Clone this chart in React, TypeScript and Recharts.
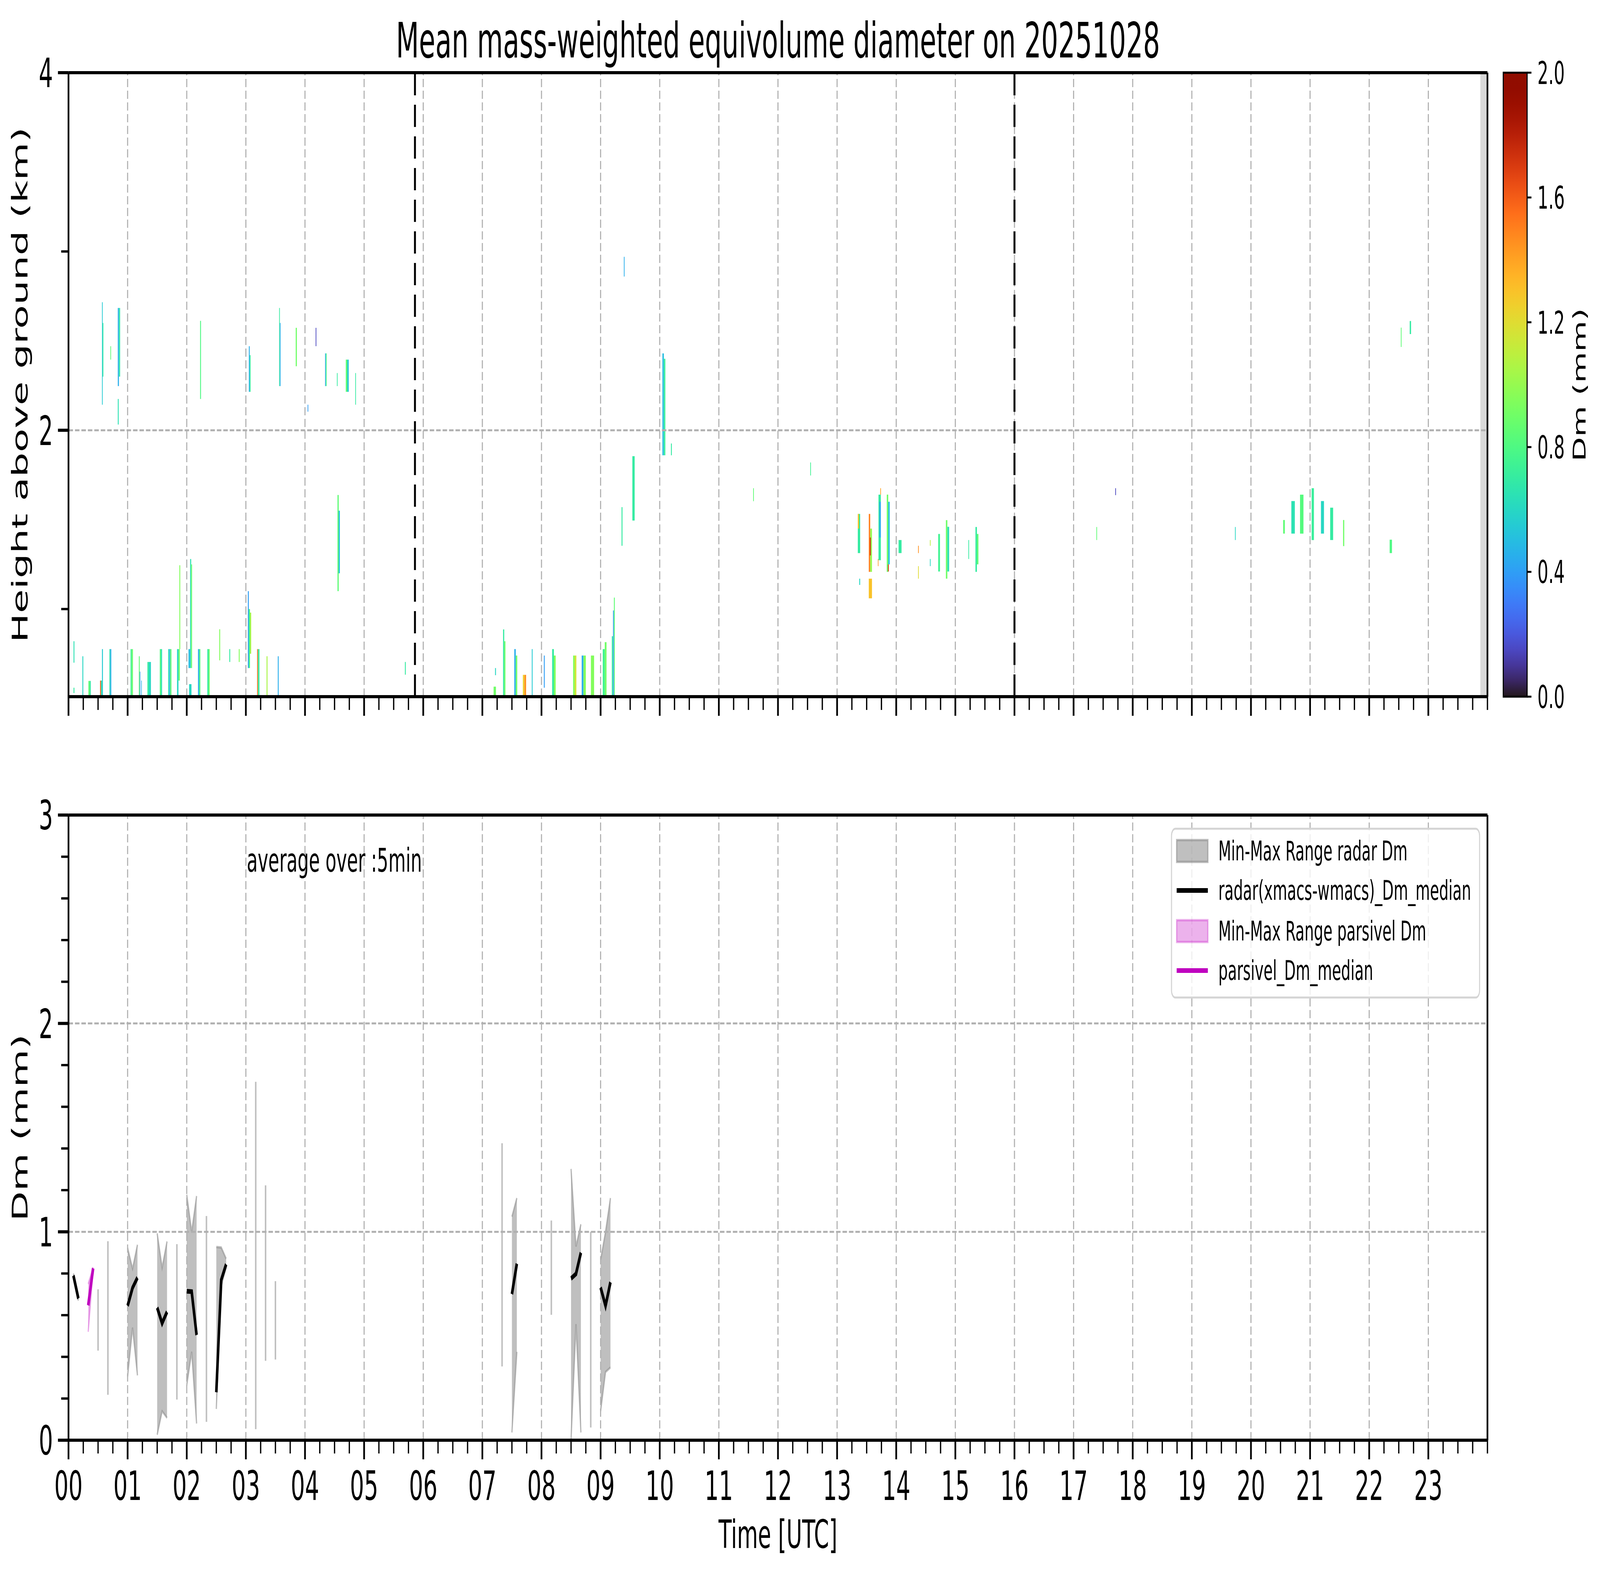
import React from 'react';
import {
  ComposedChart,
  Area,
  Line,
  XAxis,
  YAxis,
  ReferenceArea,
  ReferenceLine,
} from 'recharts';

const FONT = "'DejaVu Sans', sans-serif";
const W = 7442;
const H = 4031;
const PLOT_LEFT = 318.6;
const PLOT_RIGHT = 6918.5;
const CB_LEFT = 6992;
const CB_RIGHT = 7103;

// x axis: hour of day, labelled every hour, minor ticks every 15 min
const hourLabels = [
  '00', '01', '02', '03', '04', '05', '06', '07', '08', '09', '10', '11',
  '12', '13', '14', '15', '16', '17', '18', '19', '20', '21', '22', '23',
];
const quarterTicks = Array.from({ length: 97 }, (_, i) => i / 4);
const gridHours = [1, 2, 3, 4, 5, 6, 7, 8, 9, 10, 11, 12, 13, 14, 15, 16, 17, 18, 19, 20, 21, 22, 23];

const heightTicks = [1, 2, 3, 4];
const heightMajor = [2, 4];
const dmTicks = [0, 0.2, 0.4, 0.6, 0.8, 1, 1.2, 1.4, 1.6, 1.8, 2, 2.2, 2.4, 2.6, 2.8, 3];
const dmMajor = [0, 1, 2, 3];
const colorbarTicks = [0, 0.4, 0.8, 1.2, 1.6, 2.0];
const colorbarTickLabels = ['0.0', '0.4', '0.8', '1.2', '1.6', '2.0'];

// times of the two black dashed markers in the radar panel (hours)
const markerHours = [5.86, 16.0];
// start of the greyed-out no-data strip at the end of the day
const noDataFrom = 23.88;

// radar Dm cells: [start h, end h, bottom km, top km, Dm mm]
const radarCells: number[][] = [
  // 00-04 UTC, lowest gates
  [0.085, 0.1, 0.7, 0.82, 0.65],
  [0.085, 0.1, 0.53, 0.56, 0.7],
  [0.235, 0.25, 0.51, 0.736, 0.6],
  [0.337, 0.36, 0.51, 0.598, 0.85],
  [0.36, 0.377, 0.51, 0.598, 0.7],
  [0.534, 0.55, 0.51, 0.6, 1.6],
  [0.55, 0.566, 0.51, 0.6, 0.65],
  [0.566, 0.582, 0.51, 0.776, 0.55],
  [0.692, 0.708, 0.51, 0.776, 0.65],
  [0.708, 0.724, 0.51, 0.776, 0.45],
  [1.05, 1.07, 0.51, 0.776, 0.75],
  [1.07, 1.09, 0.51, 0.776, 0.88],
  [1.19, 1.205, 0.51, 0.736, 0.85],
  [1.205, 1.215, 0.51, 0.65, 0.4],
  [1.23, 1.24, 0.51, 0.6, 0.45],
  [1.335, 1.36, 0.51, 0.704, 0.7],
  [1.36, 1.394, 0.51, 0.704, 0.6],
  [1.544, 1.565, 0.51, 0.776, 0.8],
  [1.565, 1.583, 0.51, 0.776, 0.65],
  [1.686, 1.705, 0.51, 0.776, 0.65],
  [1.705, 1.72, 0.51, 0.776, 0.45],
  [1.72, 1.741, 0.51, 0.776, 0.85],
  [1.836, 1.86, 0.51, 0.776, 0.6],
  [1.86, 1.883, 0.6, 0.776, 0.9],
  [1.875, 1.89, 0.776, 1.245, 0.95],
  [2.03, 2.057, 0.67, 0.776, 0.5],
  [2.057, 2.075, 0.67, 1.28, 0.65],
  [2.075, 2.09, 0.67, 1.25, 0.9],
  [2.04, 2.08, 0.51, 0.58, 0.6],
  [2.19, 2.21, 0.51, 0.776, 0.45],
  [2.21, 2.23, 0.51, 0.776, 0.8],
  [2.348, 2.37, 0.51, 0.776, 0.7],
  [2.37, 2.388, 0.51, 0.776, 0.9],
  [2.55, 2.565, 0.713, 0.887, 0.95],
  [2.72, 2.735, 0.704, 0.776, 0.7],
  [2.88, 2.895, 0.704, 0.776, 0.95],
  [3.034, 3.05, 0.67, 1.1, 0.4],
  [3.05, 3.07, 0.67, 1.0, 0.8],
  [3.07, 3.09, 0.75, 0.98, 1.05],
  [3.19, 3.205, 0.51, 0.776, 1.55],
  [3.205, 3.23, 0.51, 0.776, 0.7],
  [3.35, 3.366, 0.51, 0.736, 1.05],
  [3.54, 3.555, 0.51, 0.736, 0.45],
  // upper layer 00-05 UTC
  [0.566, 0.578, 2.143, 2.716, 0.55],
  [0.578, 0.59, 2.3, 2.6, 0.7],
  [0.708, 0.72, 2.395, 2.47, 0.85],
  [0.834, 0.853, 2.247, 2.684, 0.45],
  [0.853, 0.873, 2.3, 2.684, 0.68],
  [0.834, 0.849, 2.032, 2.175, 0.65],
  [2.226, 2.241, 2.175, 2.612, 0.8],
  [3.05, 3.065, 2.215, 2.47, 0.45],
  [3.065, 3.08, 2.215, 2.42, 0.7],
  [3.563, 3.575, 2.247, 2.684, 0.7],
  [3.575, 3.587, 2.247, 2.6, 0.45],
  [3.843, 3.862, 2.358, 2.573, 0.9],
  [4.18, 4.192, 2.47, 2.573, 0.15],
  [4.044, 4.056, 2.104, 2.143, 0.4],
  [4.34, 4.354, 2.247, 2.43, 0.45],
  [4.354, 4.367, 2.247, 2.43, 0.8],
  [4.54, 4.552, 2.247, 2.32, 0.7],
  [4.69, 4.715, 2.215, 2.395, 0.85],
  [4.715, 4.74, 2.215, 2.395, 0.55],
  [4.85, 4.862, 2.143, 2.32, 0.7],
  [4.55, 4.57, 1.1, 1.638, 0.85],
  [4.57, 4.59, 1.2, 1.55, 0.5],
  [5.69, 5.705, 0.633, 0.704, 0.7],
  // 07-10 UTC
  [7.19, 7.23, 0.51, 0.566, 0.9],
  [7.215, 7.23, 0.63, 0.67, 0.6],
  [7.35, 7.37, 0.51, 0.886, 0.7],
  [7.37, 7.39, 0.51, 0.82, 0.9],
  [7.54, 7.565, 0.51, 0.776, 0.45],
  [7.565, 7.59, 0.51, 0.74, 0.9],
  [7.685, 7.71, 0.51, 0.632, 1.25],
  [7.71, 7.74, 0.51, 0.632, 1.45],
  [7.836, 7.85, 0.51, 0.776, 0.55],
  [8.04, 8.055, 0.56, 0.74, 0.4],
  [8.18, 8.21, 0.51, 0.776, 0.7],
  [8.21, 8.24, 0.51, 0.74, 0.95],
  [8.535, 8.56, 0.51, 0.74, 0.95],
  [8.56, 8.59, 0.51, 0.74, 1.15],
  [8.68, 8.71, 0.51, 0.74, 0.45],
  [8.71, 8.75, 0.51, 0.74, 0.95],
  [8.836, 8.89, 0.51, 0.74, 0.95],
  [9.036, 9.07, 0.51, 0.776, 0.75],
  [9.07, 9.1, 0.51, 0.815, 0.9],
  [9.19, 9.21, 0.51, 0.848, 0.7],
  [9.21, 9.225, 0.51, 0.992, 0.4],
  [9.225, 9.24, 0.51, 1.064, 0.85],
  [9.354, 9.37, 1.354, 1.57, 0.7],
  [9.393, 9.405, 2.86, 2.97, 0.45],
  [9.537, 9.576, 1.495, 1.855, 0.7],
  [10.045, 10.07, 1.86, 2.43, 0.5],
  [10.07, 10.095, 1.86, 2.4, 0.72],
  [10.19, 10.205, 1.86, 1.926, 0.7],
  // 11-16 UTC
  [11.58, 11.592, 1.603, 1.676, 0.85],
  [12.546, 12.558, 1.747, 1.82, 0.75],
  [13.35, 13.39, 1.313, 1.532, 0.7],
  [13.35, 13.37, 1.45, 1.532, 1.3],
  [13.375, 13.39, 1.135, 1.17, 0.6],
  [13.536, 13.56, 1.208, 1.532, 1.5],
  [13.56, 13.59, 1.208, 1.45, 1.0],
  [13.555, 13.57, 1.3, 1.4, 1.75],
  [13.536, 13.59, 1.06, 1.17, 1.3],
  [13.69, 13.7, 1.24, 1.28, 1.45],
  [13.7, 13.74, 1.273, 1.64, 0.7],
  [13.715, 13.74, 1.4, 1.6, 0.45],
  [13.73, 13.742, 1.64, 1.676, 1.4],
  [13.84, 13.865, 1.208, 1.64, 0.9],
  [13.865, 13.89, 1.25, 1.6, 0.5],
  [13.86, 13.875, 1.21, 1.25, 1.7],
  [14.04, 14.09, 1.313, 1.386, 0.7],
  [14.37, 14.382, 1.313, 1.354, 1.45],
  [14.37, 14.382, 1.17, 1.24, 1.2],
  [14.57, 14.582, 1.354, 1.386, 1.1],
  [14.57, 14.582, 1.24, 1.28, 0.6],
  [14.71, 14.74, 1.21, 1.42, 0.75],
  [14.84, 14.865, 1.17, 1.497, 0.9],
  [14.865, 14.895, 1.21, 1.46, 0.65],
  [15.22, 15.232, 1.28, 1.386, 0.7],
  [15.34, 15.365, 1.208, 1.459, 0.7],
  [15.365, 15.39, 1.25, 1.42, 0.85],
  // 17-23 UTC
  [17.385, 17.397, 1.386, 1.459, 0.85],
  [17.705, 17.717, 1.637, 1.676, 0.15],
  [19.73, 19.742, 1.386, 1.459, 0.6],
  [20.545, 20.573, 1.422, 1.498, 0.85],
  [20.683, 20.742, 1.422, 1.604, 0.65],
  [20.83, 20.888, 1.422, 1.64, 0.82],
  [21.026, 21.065, 1.386, 1.676, 0.72],
  [21.184, 21.235, 1.422, 1.604, 0.6],
  [21.34, 21.39, 1.386, 1.567, 0.7],
  [21.558, 21.578, 1.352, 1.498, 0.9],
  [22.346, 22.385, 1.313, 1.388, 0.8],
  [22.535, 22.547, 2.466, 2.574, 0.85],
  [22.685, 22.708, 2.538, 2.611, 0.7],
];

// 5-min averages, step index k -> time k/12 h
const radarSteps = [1, 2, 12, 13, 14, 18, 19, 20, 24, 25, 26, 30, 31, 32, 90, 91, 102, 103, 104, 108, 109, 110];
const radarMedian = [0.79, 0.68, 0.645, 0.731, 0.78, 0.636, 0.561, 0.616, 0.715, 0.713, 0.505, 0.23, 0.769, 0.844, 0.701, 0.847, 0.776, 0.798, 0.9, 0.733, 0.645, 0.758];
const radarMin = [0.78, 0.67, 0.306, 0.54, 0.311, 0.026, 0.139, 0.107, 0.263, 0.424, 0.08, 0.15, 0.74, 0.83, 0.037, 0.424, 0.0, 0.557, 0.037, 0.139, 0.327, 0.349];
const radarMax = [0.8, 0.69, 0.923, 0.823, 0.938, 0.993, 0.828, 0.954, 1.178, 1.0, 1.172, 0.927, 0.925, 0.871, 1.073, 1.162, 1.302, 0.93, 1.036, 0.866, 1.0, 1.162];

// single 5-min windows (show only as a vertical min-max stroke)
const radarSingleSteps = [6, 8, 22, 28, 38, 40, 42, 88, 98, 106];
const radarSingleMin = [0.43, 0.218, 0.195, 0.088, 0.053, 0.381, 0.387, 0.354, 0.602, 0.061];
const radarSingleMax = [0.724, 0.955, 0.941, 1.076, 1.72, 1.223, 0.763, 1.425, 1.054, 1.0];

const parsivelSteps = [4, 5];
const parsivelMedian = [0.647, 0.825];
const parsivelMin = [0.52, 0.82];
const parsivelMax = [0.75, 0.83];

const STEP = 1 / 12;

const dmRows = Array.from({ length: 112 }, (_, k) => {
  const r = radarSteps.indexOf(k);
  const p = parsivelSteps.indexOf(k);
  return {
    t: k * STEP,
    radarRange: r >= 0 ? [radarMin[r], radarMax[r]] : null,
    radarMedian: r >= 0 ? radarMedian[r] : null,
    parsivelRange: p >= 0 ? [parsivelMin[p], parsivelMax[p]] : null,
    parsivelMedian: p >= 0 ? parsivelMedian[p] : null,
  };
});

const frameRows = [{ t: 0 }, { t: 24 }];
const colorbarRows = [{ u: 0 }, { u: 1 }];

// turbo colormap (polynomial fit)
function turbo(v: number) {
  const x = Math.min(1, Math.max(0, v));
  const r = 0.13572138 + x * (4.6153926 + x * (-42.66032258 + x * (132.13108234 + x * (-152.94239396 + x * 59.28637943))));
  const g = 0.09140261 + x * (2.19418839 + x * (4.84296658 + x * (-14.18503333 + x * (4.27729857 + x * 2.82956604))));
  const b = 0.1066733 + x * (12.64194608 + x * (-60.58204836 + x * (110.36276771 + x * (-89.90310912 + x * 27.34824973))));
  const c = (u: number) => Math.round(255 * Math.min(1, Math.max(0, u)));
  return `rgb(${c(r)},${c(g)},${c(b)})`;
}

const near = (a: number, b: number) => Math.abs(a - b) < 1e-6;

function TimeTick(props: any) {
  const { x, y, payload, showLabel } = props;
  const v = payload.value as number;
  const hour = Math.round(v);
  const major = near(v, hour) && hour < 24;
  return (
    <g>
      <line x1={x} x2={x} y1={y} y2={y + (major ? 49 : 34)} stroke="#000" strokeWidth={major ? 8 : 6} />
      {showLabel && major ? (
        <text x={x} y={y + 153} textAnchor="middle" fontSize={104} fontFamily={FONT} fill="#000">
          {hourLabels[hour]}
        </text>
      ) : null}
    </g>
  );
}

function LeftTick(props: any) {
  const { x, y, payload, majors } = props;
  const v = payload.value as number;
  const major = majors.some((m: number) => near(m, v));
  const len = major ? 49 : 34;
  return (
    <g>
      <line x1={x - len} x2={x} y1={y} y2={y} stroke="#000" strokeWidth={major ? 8 : 6} />
      {major ? (
        <text x={x - len - 23} y={y} dy="0.36em" textAnchor="end" fontSize={104} fontFamily={FONT} fill="#000">
          {String(Math.round(v))}
        </text>
      ) : null}
    </g>
  );
}

function ColorbarTick(props: any) {
  const { x, y, payload } = props;
  const i = colorbarTicks.findIndex((c) => near(c, payload.value));
  return (
    <g>
      <line x1={x} x2={x + 20} y1={y} y2={y} stroke="#000" strokeWidth={5} />
      <text x={x + 48} y={y} dy="0.36em" textAnchor="start" fontSize={80} fontFamily={FONT} fill="#000">
        {colorbarTickLabels[i]}
      </text>
    </g>
  );
}

const gridStyle = { stroke: '#b0b0b0', strokeWidth: 5, strokeDasharray: '21 9' };

function RadarPanel() {
  return (
    <ComposedChart
      width={W}
      height={1900}
      data={frameRows}
      margin={{ top: 186, right: W - PLOT_RIGHT, bottom: 0, left: 0 }}
    >
      <XAxis
        dataKey="t"
        type="number"
        domain={[0, 24]}
        ticks={quarterTicks}
        interval={0}
        allowDataOverflow
        height={117}
        tickSize={0}
        tickMargin={0}
        tickLine={false}
        axisLine={{ stroke: '#000', strokeWidth: 8 }}
        tick={(p: any) => <TimeTick {...p} showLabel={false} />}
      />
      <YAxis
        type="number"
        domain={[0.51, 4]}
        ticks={heightTicks}
        interval={0}
        allowDataOverflow
        width={PLOT_LEFT}
        tickSize={0}
        tickMargin={0}
        tickLine={false}
        axisLine={{ stroke: '#000', strokeWidth: 8 }}
        tick={(p: any) => <LeftTick {...p} majors={heightMajor} />}
      />
      {radarCells.map((c, i) => (
        <ReferenceArea
          key={`cell-${i}`}
          x1={c[0]}
          x2={c[1]}
          y1={c[2]}
          y2={c[3]}
          fill={turbo(c[4] / 2)}
          fillOpacity={1}
          stroke="none"
        />
      ))}
      <ReferenceArea x1={noDataFrom} x2={24} y1={0.51} y2={4} fill="#d9d9d9" fillOpacity={1} stroke="none" />
      {gridHours.map((h) => (
        <ReferenceLine key={`gx-${h}`} x={h} {...gridStyle} />
      ))}
      <ReferenceLine y={2} {...gridStyle} />
      {markerHours.map((h) => (
        <ReferenceLine key={`m-${h}`} x={h} stroke="#000" strokeWidth={9} strokeDasharray="57 24" />
      ))}
      <ReferenceLine y={4} stroke="#000" strokeWidth={8} />
      <ReferenceLine x={24} stroke="#000" strokeWidth={8} />
    </ComposedChart>
  );
}

function Colorbar() {
  const stops = Array.from({ length: 41 }, (_, i) => i / 40);
  return (
    <ComposedChart
      width={W}
      height={1900}
      data={colorbarRows}
      margin={{ top: 186, right: 0, bottom: 0, left: 0 }}
    >
      <defs>
        <linearGradient id="turboGrad" x1="0" y1="1" x2="0" y2="0">
          {stops.map((s) => (
            <stop key={s} offset={s} stopColor={turbo(s)} />
          ))}
        </linearGradient>
      </defs>
      <XAxis
        dataKey="u"
        type="number"
        domain={[0, 1]}
        ticks={[0, 1]}
        allowDataOverflow
        height={117}
        tick={false}
        tickLine={false}
        axisLine={false}
      />
      <YAxis
        yAxisId="spacer"
        orientation="left"
        type="number"
        domain={[0, 2]}
        width={CB_LEFT}
        tick={false}
        tickLine={false}
        axisLine={false}
      />
      <YAxis
        yAxisId="cb"
        orientation="right"
        type="number"
        domain={[0, 2]}
        ticks={colorbarTicks}
        interval={0}
        allowDataOverflow
        width={W - CB_RIGHT}
        tickSize={0}
        tickMargin={0}
        tickLine={false}
        axisLine={false}
        tick={(p: any) => <ColorbarTick {...p} />}
      />
      <ReferenceArea
        yAxisId="cb"
        x1={0}
        x2={1}
        y1={0}
        y2={2}
        fill="url(#turboGrad)"
        fillOpacity={1}
        stroke="#000"
        strokeWidth={5}
        ifOverflow="visible"
      />
    </ComposedChart>
  );
}

function DmPanel() {
  return (
    <ComposedChart
      width={W}
      height={H - 1900}
      data={dmRows}
      margin={{ top: 186, right: W - PLOT_RIGHT, bottom: 0, left: 0 }}
    >
      <XAxis
        dataKey="t"
        type="number"
        domain={[0, 24]}
        ticks={quarterTicks}
        interval={0}
        allowDataOverflow
        height={H - 3686}
        tickSize={0}
        tickMargin={0}
        tickLine={false}
        axisLine={{ stroke: '#000', strokeWidth: 8 }}
        tick={(p: any) => <TimeTick {...p} showLabel />}
      />
      <YAxis
        type="number"
        domain={[0, 3]}
        ticks={dmTicks}
        interval={0}
        allowDataOverflow
        width={PLOT_LEFT}
        tickSize={0}
        tickMargin={0}
        tickLine={false}
        axisLine={{ stroke: '#000', strokeWidth: 8 }}
        tick={(p: any) => <LeftTick {...p} majors={dmMajor} />}
      />
      <Area
        dataKey="radarRange"
        type="linear"
        fill="#808080"
        fillOpacity={0.5}
        stroke="#808080"
        strokeOpacity={0.5}
        strokeWidth={6}
        connectNulls={false}
        dot={false}
        activeDot={false}
        isAnimationActive={false}
      />
      <Area
        dataKey="parsivelRange"
        type="linear"
        fill="#bf00bf"
        fillOpacity={0.3}
        stroke="#bf00bf"
        strokeOpacity={0.3}
        strokeWidth={6}
        connectNulls={false}
        dot={false}
        activeDot={false}
        isAnimationActive={false}
      />
      {radarSingleSteps.map((k, i) => (
        <ReferenceLine
          key={`single-${k}`}
          segment={[
            { x: k * STEP, y: radarSingleMin[i] },
            { x: k * STEP, y: radarSingleMax[i] },
          ]}
          stroke="#bfbfbf"
          strokeWidth={7}
        />
      ))}
      {gridHours.map((h) => (
        <ReferenceLine key={`gx-${h}`} x={h} {...gridStyle} />
      ))}
      <ReferenceLine y={1} {...gridStyle} />
      <ReferenceLine y={2} {...gridStyle} />
      <Line
        dataKey="radarMedian"
        type="linear"
        stroke="#000"
        strokeWidth={12}
        connectNulls={false}
        dot={false}
        activeDot={false}
        isAnimationActive={false}
      />
      <Line
        dataKey="parsivelMedian"
        type="linear"
        stroke="#bf00bf"
        strokeWidth={12}
        connectNulls={false}
        dot={false}
        activeDot={false}
        isAnimationActive={false}
      />
      <ReferenceLine y={3} stroke="#000" strokeWidth={8} />
      <ReferenceLine x={24} stroke="#000" strokeWidth={8} />
    </ComposedChart>
  );
}

const legendRows = [
  { label: 'Min-Max Range radar Dm', kind: 'patch', color: '#808080', alpha: 0.5, mid: 2178, base: 2202 },
  { label: 'radar(xmacs-wmacs)_Dm_median', kind: 'line', color: '#000000', alpha: 1, mid: 2279, base: 2303 },
  { label: 'Min-Max Range parsivel Dm', kind: 'patch', color: '#bf00bf', alpha: 0.3, mid: 2383, base: 2407 },
  { label: 'parsivel_Dm_median', kind: 'line', color: '#bf00bf', alpha: 1, mid: 2484, base: 2508 },
];

function Overlay() {
  const cx = (PLOT_LEFT + PLOT_RIGHT) / 2;
  return (
    <svg width={W} height={H} style={{ position: 'absolute', left: 0, top: 0, pointerEvents: 'none' }}>
      <text x={cx} y={147} textAnchor="middle" fontSize={124} fontFamily={FONT} fill="#000">
        Mean mass-weighted equivolume diameter on 20251028
      </text>
      <text transform="translate(127,985) rotate(-90)" textAnchor="middle" fontSize={100} fontFamily={FONT} fill="#000">
        Height above ground (km)
      </text>
      <text transform="translate(127,2886) rotate(-90)" textAnchor="middle" fontSize={100} fontFamily={FONT} fill="#000">
        Dm (mm)
      </text>
      <text x={cx} y={3962} textAnchor="middle" fontSize={100} fontFamily={FONT} fill="#000">
        Time [UTC]
      </text>
      <text transform="translate(7375,985) rotate(-90)" textAnchor="middle" fontSize={82} fontFamily={FONT} fill="#000">
        Dm (mm)
      </text>
      <text x={1148} y={2231} fontSize={83} fontFamily={FONT} fill="#000">
        average over :5min
      </text>
      <rect x={5449} y={2121} width={1433} height={432} rx={18} fill="#fff" fillOpacity={0.8} stroke="#d4d4d4" strokeWidth={5} />
      {legendRows.map((r) => (
        <g key={r.label}>
          {r.kind === 'patch' ? (
            <rect
              x={5473}
              y={r.mid - 28}
              width={145}
              height={56}
              fill={r.color}
              fillOpacity={r.alpha}
              stroke={r.color}
              strokeOpacity={r.alpha}
              strokeWidth={6}
            />
          ) : (
            <line x1={5473} x2={5618} y1={r.mid} y2={r.mid} stroke={r.color} strokeWidth={12} />
          )}
          <text x={5667} y={r.base} fontSize={69} fontFamily={FONT} fill="#000">
            {r.label}
          </text>
        </g>
      ))}
    </svg>
  );
}

export default function App() {
  // the figure is laid out at 7442 x 4031; if the visible window is smaller,
  // squeeze the whole figure so that it fills the window exactly
  const vw = typeof window !== 'undefined' ? window.innerWidth : W;
  const vh = typeof window !== 'undefined' ? window.innerHeight : H;
  const sx = vw > 0 && vw < W ? vw / W : 1;
  const sy = vh > 0 && vh < H ? vh / H : 1;
  return (
    <div style={{ position: 'absolute', left: 0, top: 0, width: W * sx, height: H * sy, overflow: 'hidden', background: '#fff' }}>
      <div
        style={{
          position: 'absolute',
          left: 0,
          top: 0,
          width: W,
          height: H,
          fontFamily: FONT,
          transformOrigin: '0 0',
          transform: `scale(${sx}, ${sy})`,
        }}
      >
        <div style={{ position: 'absolute', left: 0, top: 0 }}>
          <RadarPanel />
        </div>
        <div style={{ position: 'absolute', left: 0, top: 0 }}>
          <Colorbar />
        </div>
        <div style={{ position: 'absolute', left: 0, top: 1900 }}>
          <DmPanel />
        </div>
        <Overlay />
      </div>
    </div>
  );
}
